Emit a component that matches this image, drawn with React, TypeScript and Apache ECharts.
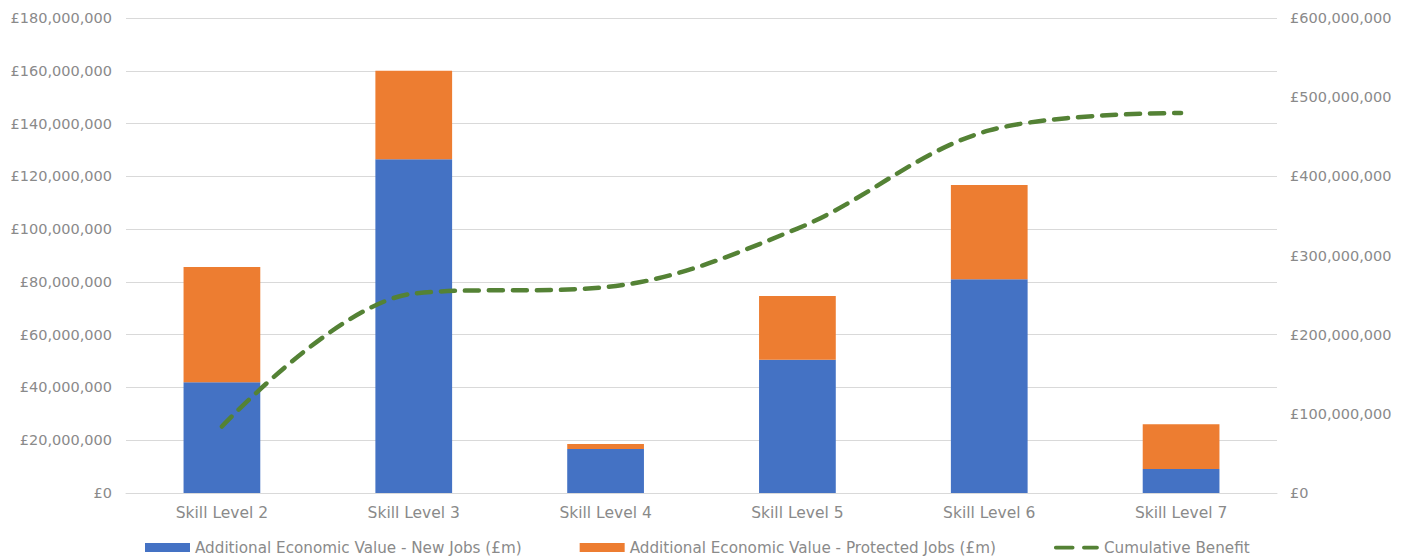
import React, { useEffect, useRef } from "react";
import * as echarts from "echarts";

const categories = ["Skill Level 2", "Skill Level 3", "Skill Level 4", "Skill Level 5", "Skill Level 6", "Skill Level 7"];
const newJobs = [42000000, 126500000, 16700000, 50500000, 81000000, 9100000];
const protectedJobs = [43600000, 33500000, 1900000, 24200000, 35700000, 17000000];
const cumulative = [84000000, 252000000, 260000000, 334000000, 458000000, 480000000];

const seriesNames = [
  "Additional Economic Value - New Jobs (£m)",
  "Additional Economic Value - Protected Jobs (£m)",
  "Cumulative Benefit",
];

const fmt = (v: number) => "£" + v.toLocaleString("en-GB");
const FONT = "DejaVu Sans";
const TXT = "#8a8a8a";

export default function App() {
  const ref = useRef<HTMLDivElement>(null);
  useEffect(() => {
    const chart = echarts.init(ref.current!, null, { renderer: "svg" });
    chart.setOption({
      animation: false,
      backgroundColor: "#fff",
      textStyle: { fontFamily: FONT },
      grid: { left: 126, right: 136, top: 18, bottom: 66, containLabel: false },
      legend: {
        top: 540,
        left: 145,
        padding: 0,
        itemWidth: 45,
        itemHeight: 9,
        itemGap: 58,
        textStyle: { color: TXT, fontSize: 15.2, fontFamily: FONT },
        data: [
          { name: seriesNames[0], icon: "rect" },
          { name: seriesNames[1], icon: "rect" },
          {
            name: seriesNames[2],
            icon: "path://M2,0 H20 A2,2 0 0 1 20,4 H2 A2,2 0 0 1 2,0 Z M32,0 H46 A2,2 0 0 1 46,4 H32 A2,2 0 0 1 32,0 Z",
            itemStyle: { color: "#548235" },
          },
        ],
      },
      xAxis: {
        type: "category",
        data: categories,
        axisTick: { show: false },
        axisLine: { lineStyle: { color: "#d9d9d9", width: 1 } },
        axisLabel: { color: TXT, fontSize: 15.5, margin: 12, fontFamily: FONT },
      },
      yAxis: [
        {
          type: "value",
          min: 0,
          max: 180000000,
          interval: 20000000,
          axisLine: { show: false },
          axisTick: { show: false },
          splitLine: { lineStyle: { color: "#d9d9d9", width: 1 } },
          axisLabel: { color: TXT, fontSize: 14.5, margin: 14, formatter: fmt, fontFamily: FONT },
        },
        {
          type: "value",
          min: 0,
          max: 600000000,
          interval: 100000000,
          axisLine: { show: false },
          axisTick: { show: false },
          splitLine: { show: false },
          axisLabel: { color: TXT, fontSize: 14.5, margin: 13, formatter: fmt, fontFamily: FONT },
        },
      ],
      series: [
        {
          name: seriesNames[0],
          type: "bar",
          stack: "total",
          barWidth: "40%",
          data: newJobs,
          itemStyle: { color: "#4472c4" },
        },
        {
          name: seriesNames[1],
          type: "bar",
          stack: "total",
          data: protectedJobs,
          itemStyle: { color: "#ed7d31" },
        },
        {
          name: seriesNames[2],
          type: "line",
          yAxisIndex: 1,
          smooth: 0.35,
          showSymbol: false,
          symbol: "none",
          data: cumulative,
          lineStyle: { color: "#548235", width: 4.5, type: [14, 10], cap: "round" },
          itemStyle: { color: "#548235" },
        },
      ],
    });
    return () => chart.dispose();
  }, []);
  return <div ref={ref} style={{ width: 1413, height: 559, position: "absolute", left: 0, top: 0 }} />;
}
